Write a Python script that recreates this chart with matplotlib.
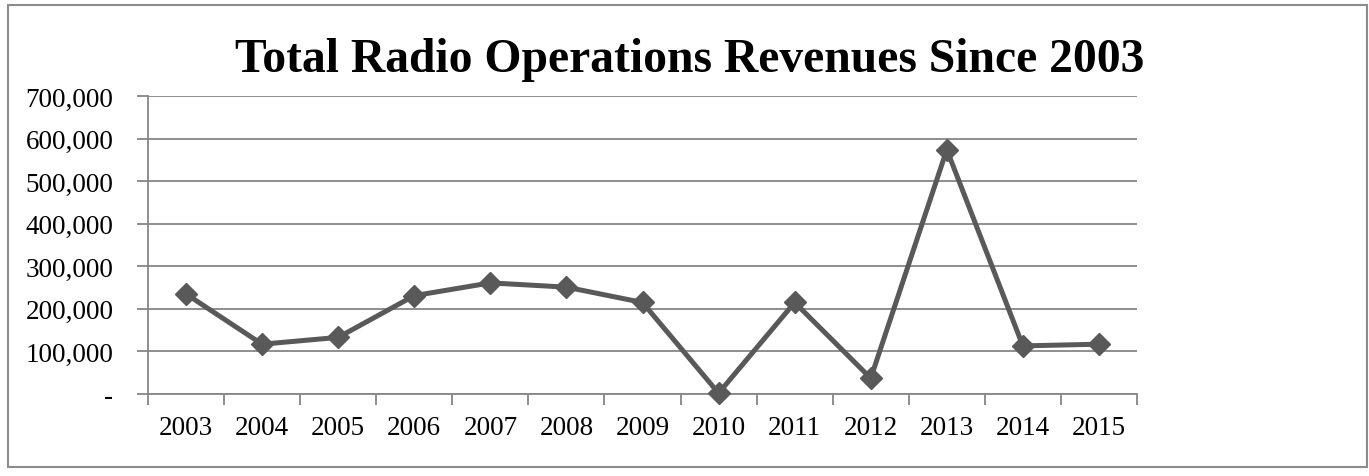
import matplotlib
matplotlib.use("Agg")
import matplotlib.pyplot as plt
from matplotlib.patches import Rectangle
from matplotlib.ticker import FuncFormatter, FixedLocator, NullFormatter

years = ["2003", "2004", "2005", "2006", "2007", "2008", "2009",
         "2010", "2011", "2012", "2013", "2014", "2015"]
revenues = [235000, 117000, 133000, 231000, 261000, 251000, 215000,
            2000, 215000, 37000, 574000, 113000, 117000]
y_ticks = [0, 100000, 200000, 300000, 400000, 500000, 600000, 700000]

plt.rcParams["font.family"] = ["Liberation Serif", "DejaVu Serif"]

W, H = 1369, 477
fig = plt.figure(figsize=(W / 100, H / 100), dpi=100)

# chart border
fig.patches.append(Rectangle((8 / W, 1 - 468 / H), (1367 - 8) / W, (468 - 6) / H,
                             transform=fig.transFigure, fill=False,
                             edgecolor="#8c8c8c", linewidth=1.5))

ax = fig.add_axes([148 / W, 1 - 395 / H, (1137 - 148) / W, (395 - 97) / H])

x = list(range(len(years)))
ax.plot(x, revenues, color="#595959", linewidth=3.6, marker="D",
        markersize=11, markerfacecolor="#595959", markeredgecolor="#595959",
        zorder=3, clip_on=False)

ax.set_xlim(-0.5, len(years) - 0.5)
ax.set_ylim(0, 700000)

ax.yaxis.set_major_locator(FixedLocator(y_ticks))
ax.yaxis.set_major_formatter(FuncFormatter(lambda v, p: "-" if v == 0 else f"{int(v):,}"))
ax.grid(axis="y", color="#868686", linewidth=1.3)
ax.set_axisbelow(True)

ax.set_xticks(x)
ax.set_xticklabels(years)
ax.xaxis.set_minor_locator(FixedLocator([i - 0.5 for i in range(len(years) + 1)]))
ax.xaxis.set_minor_formatter(NullFormatter())
ax.tick_params(axis="x", which="major", length=0, pad=15, labelsize=19.5)
ax.tick_params(axis="x", which="minor", length=8, width=1.3, color="#868686")
ax.tick_params(axis="y", length=8, width=1.3, color="#868686", labelsize=19.5, pad=17)

for side in ("top", "right"):
    ax.spines[side].set_visible(False)
for side in ("left", "bottom"):
    ax.spines[side].set_color("#868686")
    ax.spines[side].set_linewidth(1.3)

fig.text(690 / W, 1 - 72 / H, "Total Radio Operations Revenues Since 2003",
         ha="center", va="baseline", fontsize=34.3, fontweight="bold")

fig.savefig("out.png", dpi=100)
